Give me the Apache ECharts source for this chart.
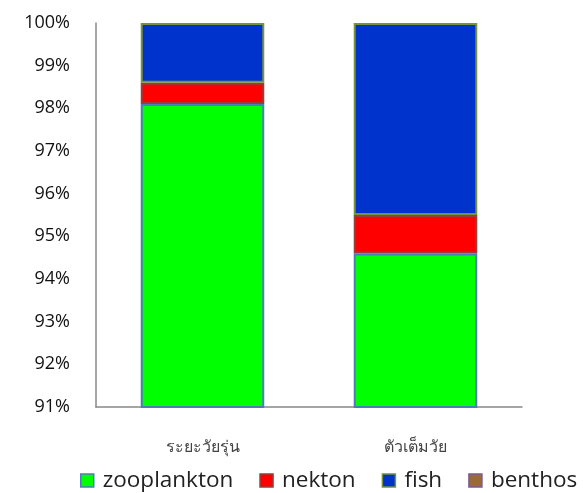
<!DOCTYPE html>
<html>
<head>
<meta charset="utf-8">
<script src="https://cdn.jsdelivr.net/npm/echarts@6/dist/echarts.min.js"></script>
<style>
  html, body { margin: 0; padding: 0; background: #fff; }
  #chart { width: 585px; height: 493px; }
</style>
</head>
<body>
<div id="chart"></div>
<script>
// stage categories
const categories = ['ระยะวัยรุ่น', 'ตัวเต็มวัย'];

// percent of diet per stage
const zooplankton = [98.1, 94.6];
const nekton = [0.5, 0.9];
const fish = [1.4, 4.5];
const benthos = [0, 0];

const chart = echarts.init(document.getElementById('chart'), null, { renderer: 'canvas' });

function bar(name, data, fill, border) {
    return {
        name: name,
        type: 'bar',
        stack: 'total',
        data: data,
        barWidth: '58%',
        itemStyle: { color: fill, borderColor: border, borderWidth: 2 }
    };
}

const benthosSeries = bar('benthos', benthos, '#9b6a3a', '#7a5a9a');
benthosSeries.itemStyle.borderWidth = 0;

const option = {
    animation: false,
    grid: { left: 96, right: 63, top: 23, bottom: 86 },
    legend: {
        top: 469,
        left: 80,
        icon: 'rect',
        itemWidth: 13,
        itemHeight: 13,
        itemGap: 26,
        padding: 0,
        textStyle: { fontSize: 22.5, color: '#222', fontFamily: 'Open Sans', padding: [0, 0, 0, 4] },
        data: [
            { name: 'zooplankton', itemStyle: { borderWidth: 1.5 } },
            { name: 'nekton', itemStyle: { borderWidth: 1.5 } },
            { name: 'fish', itemStyle: { borderWidth: 1.5 } },
            { name: 'benthos', itemStyle: { borderColor: '#7a5a9a', borderWidth: 1.5 } }
        ]
    },
    xAxis: {
        type: 'category',
        data: categories,
        axisLine: { lineStyle: { color: '#888', width: 1.5 } },
        axisTick: { show: false },
        axisLabel: { fontSize: 16, color: '#444', margin: 32, fontFamily: 'Noto Sans' }
    },
    yAxis: {
        type: 'value',
        min: 91,
        max: 100,
        interval: 1,
        axisLine: { show: true, lineStyle: { color: '#888', width: 1.5 } },
        axisTick: { show: false },
        splitLine: { show: false },
        axisLabel: {
            fontSize: 18,
            color: '#111',
            margin: 26,
            fontFamily: 'Open Sans',
            formatter: v => v + '%'
        }
    },
    series: [
        bar('zooplankton', zooplankton, '#00ff00', '#4a7ebb'),
        bar('nekton', nekton, '#ff0000', '#9b3b3b'),
        bar('fish', fish, '#0033cc', '#77933c'),
        benthosSeries
    ]
};

chart.setOption(option);
</script>
</body>
</html>
